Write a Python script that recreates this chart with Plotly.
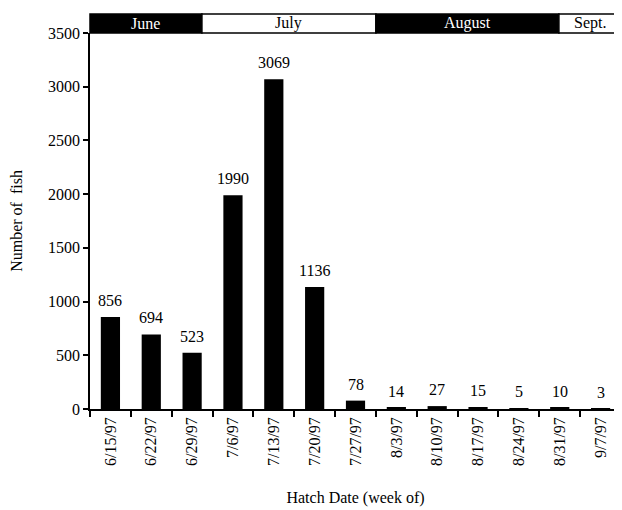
import plotly.graph_objects as go

weeks = ["6/15/97", "6/22/97", "6/29/97", "7/6/97", "7/13/97", "7/20/97", "7/27/97",
         "8/3/97", "8/10/97", "8/17/97", "8/24/97", "8/31/97", "9/7/97"]
fish = [856, 694, 523, 1990, 3069, 1136, 78, 14, 27, 15, 5, 10, 3]

months = ["June", "July", "August", "Sept."]
# month boundaries in week-slot units (0 = left edge of first slot)
month_start = [0, 2.74, 7.0, 11.48]
month_end = [2.74, 7.0, 11.48, 13]
month_fill = ["black", "white", "black", "white"]
month_text = ["white", "black", "white", "black"]

FONT = "Liberation Serif"
n = len(weeks)

fig = go.Figure(go.Bar(
    x=weeks, y=fish, marker=dict(color="black", line=dict(width=0)),
    cliponaxis=False,
))

for w, v in zip(weeks, fish):
    fig.add_annotation(x=w, y=v, xref="x", yref="y", text=str(v), showarrow=False,
                       yanchor="bottom", xanchor="center", yshift=6,
                       font=dict(family=FONT, size=16, color="black"))

band_bottom = 1.0
band_top = 1.0 + 19 / 376
for m, s, e, fc, tc in zip(months, month_start, month_end, month_fill, month_text):
    fig.add_shape(type="rect", xref="paper", yref="paper",
                  x0=s / n, x1=e / n, y0=band_bottom, y1=band_top,
                  fillcolor=fc, line=dict(color="black", width=1.5))
    fig.add_annotation(xref="paper", yref="paper", x=(s + e) / 2 / n,
                       y=(band_bottom + band_top) / 2, text=m, showarrow=False,
                       font=dict(family=FONT, size=16, color=tc),
                       xanchor="center", yanchor="middle")

fig.update_layout(
    width=614, height=502,
    margin=dict(l=82, r=1, t=25, b=101),
    paper_bgcolor="white", plot_bgcolor="white",
    bargap=0.53, showlegend=False,
    font=dict(family=FONT, size=16, color="black"),
)
fig.update_xaxes(
    type="category", tickangle=-90, tickson="boundaries",
    ticks="outside", ticklen=6, tickwidth=1.5, tickcolor="black",
    showline=True, linecolor="black", linewidth=1.5,
    showgrid=False, tickfont=dict(family=FONT, size=16),
    title=dict(text="Hatch Date (week of)", font=dict(family=FONT, size=16), standoff=27),
)
fig.update_yaxes(
    range=[0, 3500], dtick=500, ticks="outside", ticklen=5, tickwidth=1.5,
    tickcolor="black", showline=True, linecolor="black", linewidth=1.5,
    showgrid=False, zeroline=False, tickfont=dict(family=FONT, size=16),
    title=dict(text="Number of\u00a0 fish", font=dict(family=FONT, size=16), standoff=22),
)

fig.write_html("out.html")
